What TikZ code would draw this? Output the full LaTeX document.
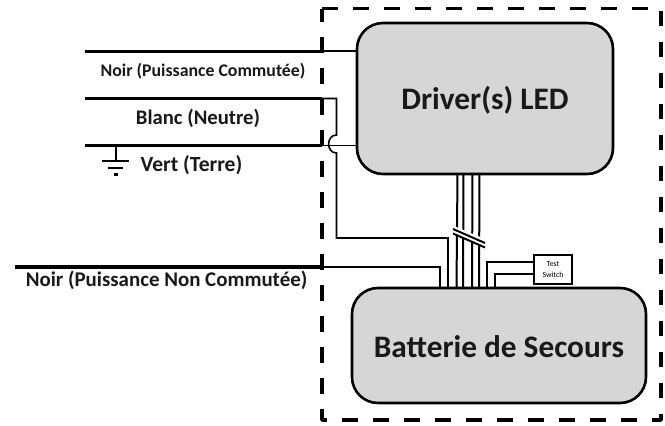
\documentclass[tikz,border=0pt]{standalone}
\usepackage{fontspec}
\setmainfont{Carlito}
\begin{document}
\begin{tikzpicture}[x=1pt,y=-1pt,
  thickwire/.style={line width=3pt},
  wire/.style={line width=1.6pt},
  busw/.style={line width=2pt},
  lbl/.style={font=\bfseries\fontsize{#1}{#1}\selectfont,inner sep=0pt,text=black!90},
  bigbox/.style={draw,line width=2.6pt,fill=black!16,rounded corners=26pt,minimum width=0pt,inner sep=0pt},
  biglbl/.style={font=\bfseries\fontsize{31.3}{33}\selectfont,inner sep=0pt,text=black!90}]
\useasboundingbox (0,0) rectangle (665,426);
\fill[white] (0,0) rectangle (665,426);
% outer dashed frame
\draw[line width=3.6pt,line join=round,dash pattern=on 15.5pt off 15.5pt] (322,8.5) -- (661,8.5) -- (661,420) -- (322,420) -- cycle;
% boxes
\node[bigbox,minimum width=256pt,minimum height=151pt] (drv) at (485,98.5) {};
\node[bigbox,minimum width=294pt,minimum height=115pt] (bat) at (499,345.5) {};
\node[draw,line width=1.6pt,fill=white,minimum width=38pt,minimum height=29pt,inner sep=0pt,align=center,
      font=\fontsize{7.8}{11}\selectfont] (sw) at (553,269.5) {Test\\Switch};
\node[biglbl] (drvt) at (485,100) {Driver(s) LED};
\node[biglbl] (batt) at (499,347) {Batterie de Secours};
% labels
\node[lbl=17.8] (l1) at (203,71) {Noir (Puissance Commutée)};
\node[lbl=20.7] (l2) at (198,118) {Blanc (Neutre)};
\node[lbl=21.6] (l3) at (191.5,165) {Vert (Terre)};
\node[lbl=20.9] (l4) at (166.5,280) {Noir (Puissance Non Commutée)};
% coordinates
\coordinate (a0) at (85,51);    \coordinate (a1) at (322,51);   \coordinate (a2) at (357,51);
\coordinate (b0) at (85,98.5);  \coordinate (b1) at (322,98.5);
\coordinate (c0) at (85,145.5); \coordinate (c1) at (322,145.5);\coordinate (c2) at (357,145.5);
\coordinate (d0) at (15,267);   \coordinate (d1) at (322,267);
% incoming wires
\draw[thickwire] (a0) -- (a1);
\draw[wire] (a1) -- (a2);
\draw[thickwire] (b0) -- (b1);
\draw[wire] (b1) -- (336.5,98.5) -- (336.5,135) .. controls (326,135) and (326,153) .. (336.5,153) -- (336.5,238) -- (448,238) -- (448,288);
\draw[thickwire] (c0) -- (c1);
\draw[wire] (c1) -- (c2);
\draw[line width=3.5pt] (d0) -- (d1);
\draw[wire] (d1) -- (440,267) -- (440,288);
% bundle
\foreach \xa/\xb/\n in {457.5/456.5/1,463.5/463/2,472.5/472/3,479.5/479/4}{
  \draw[busw] (\xa,174) -- (\xb,288);
}
\fill[white] (449,231.5) -- (490,248.5) -- (490,241) -- (449,224) -- cycle;
\draw[busw] (453,229) -- (485,243);
\draw[busw] (453,233.5) -- (485,247.5);
% test switch wires
\draw[wire] (sw.west |- 0,262) -- (487,262) -- (487,288);
\draw[wire] (sw.west |- 0,274) -- (495,274) -- (495,288);
% ground
\coordinate (g0) at (115.7,145.5); \coordinate (g1) at (115.7,161);
\draw[line width=2.4pt] (g0) -- (g1);
\draw[line width=2.4pt] (102,161) -- (129,161);
\draw[line width=2.4pt] (108,168) -- (123,168);
\draw[line width=2.4pt] (113.5,174.5) -- (118,174.5);
\end{tikzpicture}
\end{document}
